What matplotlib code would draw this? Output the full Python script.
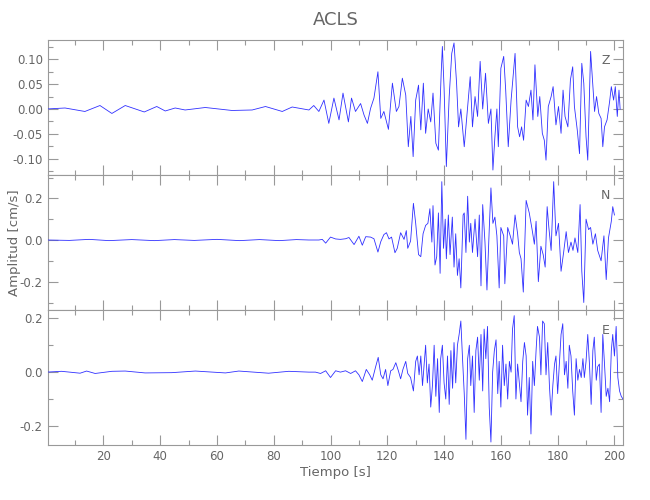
import numpy as np
import matplotlib
matplotlib.use("Agg")
import matplotlib.pyplot as plt
from matplotlib.ticker import MultipleLocator, FormatStrFormatter

title = "ACLS"
xlabel = "Tiempo [s]"
ylabel = "Amplitud [cm/s]"
components = ["Z", "N", "E"]

z_t = [0.0, 6.5, 13.5, 18.8, 23.0, 27.7, 34.4, 38.8, 41.8, 45.3, 48.8, 55.9, 65.3, 72.4, 77.1, 83.0, 86.5,
       92.4, 94.1, 95.9, 97.7, 99.4, 101.2, 103.0, 104.4, 106.3, 107.4, 108.8, 110.6, 111.8, 113.0, 114.1, 115.3,
       116.7, 117.7, 118.8, 120.4, 121.8, 123.2, 124.1, 125.3, 126.5, 127.4, 128.3, 129.1, 130.0, 131.0, 131.8,
       132.7, 133.5, 134.4, 135.3, 136.1, 137.1, 138.0, 139.0, 139.4, 140.0, 140.8, 141.8, 142.7, 143.5, 144.4,
       145.1, 145.9,
       147.1, 148.3, 149.2, 150.0, 150.9, 151.8, 152.7, 153.6, 154.6, 155.6, 156.5, 157.2, 157.9, 158.6, 159.1,
       160.0, 161.0, 161.7, 162.6, 163.6, 164.3, 165.0, 165.9, 166.6, 167.3, 168.0, 168.9, 169.7, 170.6, 171.3,
       172.0, 173.0, 173.7, 174.6, 175.3, 175.9, 176.7, 177.7, 178.4, 179.4, 180.3, 181.2, 181.9, 182.6, 183.6,
       184.5, 185.3, 185.9, 186.9, 187.7, 188.5, 189.2, 190.0, 190.6, 191.6, 192.4, 193.0, 193.7, 194.5, 195.3,
       195.9, 196.5, 197.4, 198.3, 198.9, 199.7, 200.3, 201.0, 201.6, 202.0]
z_v = [0.000, 0.002, -0.005, 0.007, -0.009, 0.007, -0.006, 0.005, -0.004, 0.002, -0.002, 0.003, -0.003, -0.002,
       0.005, -0.005, 0.004,
       -0.002, 0.007, -0.005, 0.018, -0.029, 0.022, -0.022, 0.032, -0.026, 0.022, -0.005, 0.011, -0.012, -0.029,
       0.001, 0.022, 0.075, -0.019, -0.005, -0.041, 0.052, -0.005, 0.005, 0.062, 0.028, -0.076, -0.015, -0.096,
       0.018, 0.048, -0.042, 0.052, -0.049, 0.000, -0.026, 0.032, -0.069, -0.083, 0.075, 0.126, 0.042, -0.116,
       0.025, 0.112, 0.133, 0.052, -0.036, 0.000,
       -0.076, 0.005, 0.065, -0.036, 0.025, -0.015, 0.096, 0.000, 0.072, -0.029, 0.000, -0.123, -0.056, 0.000,
       -0.076, 0.082, 0.106, 0.038, -0.076, 0.018, 0.065, 0.112, -0.036, -0.056, -0.036, -0.063, 0.018, 0.005,
       0.038, -0.022, 0.089, -0.015, 0.025, -0.049, -0.063, -0.103, 0.005, 0.025, 0.045, -0.032, 0.005, -0.049,
       0.038, -0.015, -0.036, 0.059, 0.085, 0.005, -0.042, -0.090, 0.092, 0.052, -0.056, -0.103, 0.116, 0.045,
       -0.005, 0.025, -0.009, -0.019, -0.076, -0.036, -0.022, 0.015, 0.045, 0.018, 0.045, -0.015, 0.038, 0.000]

n_t = [0.0, 8.0, 15.0, 22.0, 30.0, 38.0, 45.0, 52.0, 60.0, 68.0, 75.0, 82.0, 88.0,
       92.4, 95.9, 97.1, 98.3, 100.0, 101.8, 103.5, 105.3, 106.5, 108.3, 110.0, 111.2, 112.4, 114.1, 115.3,
       116.7, 117.7, 118.8, 119.7, 120.6, 121.5, 122.7, 123.5, 124.7, 125.9, 126.7, 127.2, 128.2, 129.2, 130.0,
       131.0, 131.8, 132.6, 133.5, 134.3, 135.0, 135.7, 136.1, 136.8, 137.4, 138.0, 138.6, 139.2, 139.8, 140.4,
       140.8, 141.5, 142.1, 142.9, 143.5, 144.1, 144.7, 145.3, 145.9, 146.7,
       147.1, 147.7, 148.3, 148.9, 149.4, 150.0, 150.9, 151.8, 152.4, 153.0, 153.6, 154.4, 155.1, 155.9, 156.5,
       157.2, 157.9, 158.6, 159.4, 160.0, 161.0, 161.4, 162.4, 163.3, 164.1, 165.0, 165.9, 166.5, 167.1, 167.9,
       168.9, 170.0, 171.0, 171.8, 172.4, 173.2, 174.1, 174.9, 175.6, 176.3, 176.9, 177.7, 178.6, 179.4, 180.3,
       181.2, 182.1, 183.0, 183.8, 184.7, 185.4, 186.1, 187.1, 187.9, 188.5, 189.2, 190.0, 190.9, 191.6, 192.4,
       193.3, 194.1, 195.3, 196.3, 197.1, 197.9, 198.9, 199.4, 200.0]
n_v = [0.000, -0.002, 0.003, -0.003, 0.002, -0.003, 0.002, -0.002, 0.003, -0.003, 0.002, -0.003, 0.002,
       0.000, 0.000, 0.003, -0.015, 0.014, 0.005, 0.003, 0.006, 0.012, -0.022, 0.018, -0.025, 0.016, 0.014, 0.006,
       -0.058, -0.008, 0.026, 0.035, 0.005, 0.014, -0.061, -0.040, 0.035, 0.003, 0.045, -0.040, -0.005, 0.176,
       0.080, -0.070, -0.080, 0.030, 0.070, 0.080, 0.150, -0.010, 0.165, -0.120, -0.080, 0.130, -0.160, 0.280,
       -0.040, 0.100, -0.090, 0.120, -0.070, 0.110, -0.130, 0.030, -0.170, -0.090, -0.230, 0.120,
       0.130, -0.060, 0.210, -0.010, 0.080, -0.060, 0.100, -0.080, 0.120, -0.220, 0.170, -0.010, -0.240, 0.050,
       0.250, 0.080, 0.110, 0.020, -0.230, 0.060, 0.020, -0.210, 0.060, 0.020, -0.020, 0.120, 0.030, -0.060,
       -0.090, -0.250, 0.190, 0.130, 0.050, -0.020, 0.090, -0.200, -0.030, -0.070, -0.130, 0.160, 0.060, -0.050,
       0.280, 0.020, 0.080, -0.150, -0.060, 0.040, -0.060, -0.010, -0.050, 0.010, -0.060, 0.170, -0.150, -0.300,
       0.100, 0.050, 0.060, -0.020, 0.030, -0.050, -0.100, 0.020, -0.190, 0.010, 0.090, 0.160, 0.120]

e_t = [0.0, 5.3, 11.8, 14.1, 17.1, 23.0, 27.7, 34.7, 44.1, 52.4, 63.0, 67.7, 78.2, 85.3,
       92.4, 94.7, 96.5, 98.3, 100.0, 101.8, 103.5, 105.3, 107.1, 108.8, 110.0, 111.2, 112.6, 113.8, 114.7,
       115.9, 116.8, 117.7, 118.5, 119.4, 120.2, 121.2, 122.0, 123.0, 123.9, 124.7, 125.5, 126.5, 127.2, 128.2,
       129.2, 130.0, 130.6, 131.2, 131.8, 132.4, 133.0, 133.5, 134.1, 134.7, 135.3, 135.9, 136.5, 137.1, 137.7,
       138.3, 138.8, 139.4, 140.0, 140.6, 141.2, 141.8, 142.4, 143.0, 143.5, 144.1, 144.7, 145.3, 145.9, 146.5,
       147.1, 147.7, 148.3, 148.9, 149.4, 150.0, 150.6, 151.2, 151.8, 152.4, 153.0, 153.6, 154.1, 154.7, 155.3,
       155.9, 156.5, 157.1, 157.7, 158.3, 158.9, 159.4, 160.0, 160.6, 161.2, 161.8, 162.4, 163.0, 163.6, 164.1,
       164.7, 165.3, 165.9, 166.5, 167.1, 167.7, 168.3, 168.9, 169.4, 170.0, 170.6, 171.2, 171.8, 172.4, 172.9,
       173.6, 174.1, 174.7, 175.3, 175.9, 176.5, 177.1, 177.7, 178.3, 178.9, 179.4, 180.0, 180.6, 181.2, 181.8,
       182.4, 183.0, 183.6, 184.1, 184.7, 185.3, 185.9, 186.5, 187.1, 187.7, 188.3, 188.9, 189.4, 190.0, 190.6,
       191.2, 191.8, 192.4, 192.9, 193.6, 194.1, 194.7, 195.3, 195.9, 196.5, 197.1, 197.7, 198.3, 198.9, 199.4,
       200.0, 200.6, 201.2, 201.8, 202.4, 203.0]
e_v = [0.000, 0.003, -0.004, 0.004, -0.005, 0.003, 0.004, -0.003, -0.002, 0.004, -0.003, 0.004, -0.004, 0.003,
       0.000, 0.000, -0.005, 0.005, -0.020, 0.005, 0.000, 0.005, -0.005, 0.005, -0.010, -0.035, 0.010, -0.010,
       -0.030, 0.020, 0.055, -0.010, -0.025, 0.010, -0.050, 0.005, 0.010, 0.035, 0.005, -0.025, 0.010, 0.040,
       -0.005, -0.020, -0.070, 0.040, 0.060, -0.010, 0.060, -0.050, 0.030, 0.100, -0.040, 0.030, -0.130, -0.050,
       0.100, -0.090, 0.050, -0.150, 0.050, 0.100, -0.040, -0.100, 0.060, -0.120, 0.080, -0.060, 0.110, -0.040,
       0.100, 0.140, 0.190, 0.050,
       -0.080, -0.250, 0.050, 0.100, -0.050, 0.060, -0.150, 0.080, 0.130, -0.030, 0.140, -0.070, 0.160, 0.050,
       0.170, -0.130, -0.260, 0.000, 0.080, 0.120, -0.080, 0.040, -0.130, 0.100, -0.050, 0.030, -0.100, 0.040,
       0.000, 0.160, 0.210, -0.100, 0.030, -0.040, -0.110, 0.040, 0.110, 0.060, -0.160, -0.020, -0.230, 0.040,
       -0.050, 0.080, 0.170, 0.130, -0.010, 0.190, 0.180, -0.010, 0.110, -0.050, -0.160, -0.050, 0.030, 0.060,
       -0.080, 0.030, 0.140, 0.180, -0.010, 0.040, -0.060, 0.100, 0.060, -0.070, -0.160, 0.050, -0.030, 0.010,
       -0.020, 0.050, -0.020, 0.040, 0.140, 0.030, -0.120, 0.080, 0.130, -0.030, 0.020, 0.030, -0.150, 0.140,
       0.030, -0.090, -0.060, -0.110, 0.080, 0.140, 0.060, 0.170, -0.020, -0.070, -0.090, -0.100]

traces = [(z_t, z_v), (n_t, n_v), (e_t, e_v)]
ylims = [(-0.133, 0.139), (-0.336, 0.312), (-0.271, 0.231)]
ymajor = [0.05, 0.2, 0.2]
yminor = [0.025, 0.1, 0.1]
yfmt = ["%.2f", "%.1f", "%.1f"]
xlim = (0.4, 203.0)

TXT = "#666666"
AX = "#999999"
plt.rcParams["font.family"] = ["DejaVu Sans"]

fig = plt.figure(figsize=(6.5, 5.0), dpi=100)
bottoms = [0.65, 0.38, 0.11]
for i, (tt, vv) in enumerate(traces):
    ax = fig.add_axes([0.0734, bottoms[i], 0.885, 0.27])
    ax.plot(tt, vv, color="#3030ff", lw=0.6, zorder=3)
    ax.set_xlim(*xlim)
    ax.set_ylim(*ylims[i])
    ax.xaxis.set_major_locator(MultipleLocator(20))
    ax.xaxis.set_minor_locator(MultipleLocator(10))
    ax.yaxis.set_major_locator(MultipleLocator(ymajor[i]))
    ax.yaxis.set_minor_locator(MultipleLocator(yminor[i]))
    ax.yaxis.set_major_formatter(FormatStrFormatter(yfmt[i]))
    ax.tick_params(which="both", direction="in", top=True, right=True, color=AX,
                   labelcolor=TXT, labelsize=8.5, width=0.8)
    ax.tick_params(which="major", length=7)
    ax.tick_params(which="minor", length=3.5)
    for s in ax.spines.values():
        s.set_color(AX)
        s.set_linewidth(0.8)
    if i < 2:
        ax.tick_params(labelbottom=False)
    else:
        ax.set_xlabel(xlabel, color=TXT, fontsize=9.5, labelpad=2)
    ax.text(0.97, 0.85, components[i], transform=ax.transAxes, color=TXT, fontsize=9,
            ha="center", va="center", zorder=2)
    if i == 0:
        ax.set_title(title, color=TXT, fontsize=13, pad=11)

fig.text(0.022, 0.515, ylabel, rotation=90, color=TXT, fontsize=9.5, ha="center", va="center")
fig.savefig("out.png", dpi=100, facecolor="white")
